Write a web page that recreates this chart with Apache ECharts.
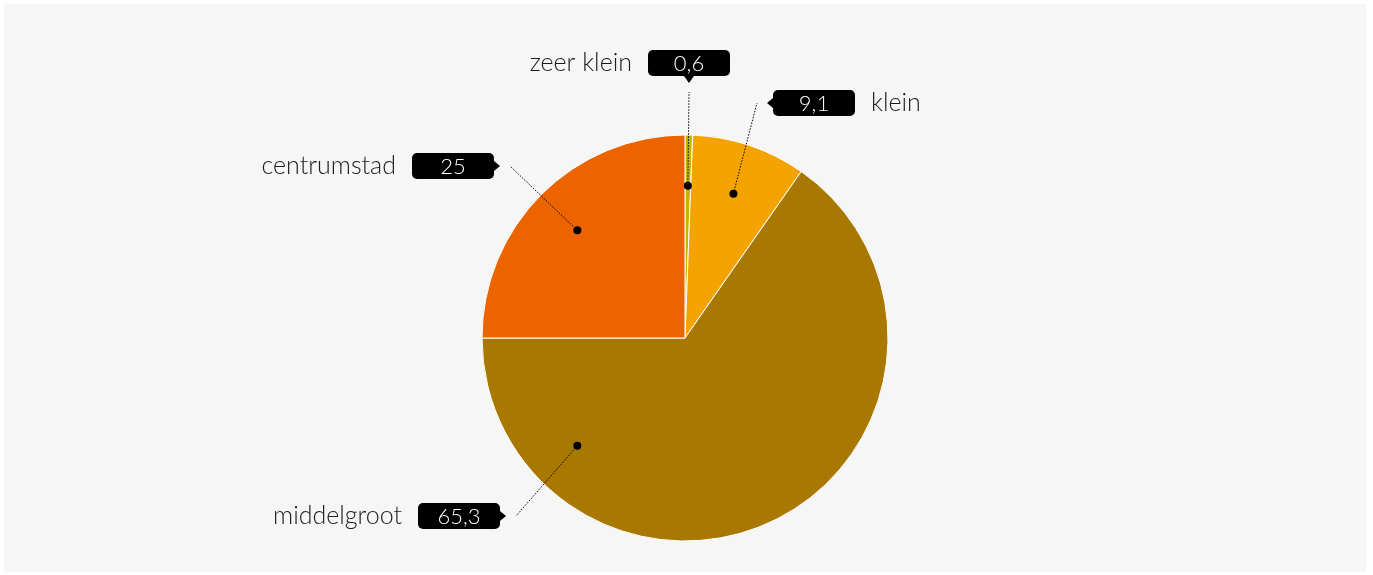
<!DOCTYPE html>
<html lang="nl">
<head>
<meta charset="UTF-8">
<title>taart</title>
<script src="https://cdn.jsdelivr.net/npm/echarts@6/dist/echarts.min.js"></script>
<style>html,body{margin:0;background:#fff;}</style>
</head>
<body>
<div id="main" style="width:1373px;height:575px;"></div>
<script>
    // data
    const categories = ['zeer klein', 'klein', 'middelgroot', 'centrumstad'];
    const values = [0.6, 9.1, 65.3, 25];
    const colors = ['#c8b200', '#f5a300', '#a87800', '#eb6400'];

    // layout of the pie and of the callouts (pixels)
    const cx = 685, cy = 338, R = 203;
    const labelPos = [
        {x: 689, y: 63, pointer: 'bottom', name: 'left'},
        {x: 814, y: 103, pointer: 'left', name: 'right'},
        {x: 459, y: 516, pointer: 'right', name: 'left', dotAngle: 225},
        {x: 453, y: 166, pointer: 'right', name: 'left'}
    ];
    const fontFam = 'Lato, sans-serif';

    const total = values.reduce((a, b) => a + b, 0);

    function renderLabel(params, api) {
        const i = params.dataIndex;
        let before = 0;
        for (let k = 0; k < i; k++) before += values[k];
        const lp = labelPos[i];
        const deg = lp.dotAngle != null ? lp.dotAngle : (before + values[i] / 2) / total * 360;
        const ang = deg * Math.PI / 180;
        const dx = cx + R * 0.75 * Math.sin(ang);
        const dy = cy - R * 0.75 * Math.cos(ang);

        const bw = 82, bh = 26;
        const bx = lp.x - bw / 2, by = lp.y - bh / 2;
        let tri, lineEnd;
        if (lp.pointer === 'bottom') {
            tri = [[lp.x - 5, by + bh], [lp.x + 5, by + bh], [lp.x, by + bh + 7]];
            lineEnd = [lp.x, by + bh + 16];
        } else if (lp.pointer === 'left') {
            tri = [[bx, lp.y - 5], [bx, lp.y + 5], [bx - 6, lp.y]];
            lineEnd = [bx - 16, lp.y];
        } else {
            tri = [[bx + bw, lp.y - 5], [bx + bw, lp.y + 5], [bx + bw + 6, lp.y]];
            lineEnd = [bx + bw + 16, lp.y];
        }
        const nameLeft = lp.name === 'left';

        return {
            type: 'group',
            children: [
                {type: 'polyline', shape: {points: [[dx, dy], lineEnd]},
                    style: {stroke: '#000', lineWidth: 1, lineDash: [1.5, 1.5], fill: null}},
                {type: 'circle', shape: {cx: dx, cy: dy, r: 4}, style: {fill: '#000'}},
                {type: 'rect', shape: {x: bx, y: by, width: bw, height: bh, r: 5}, style: {fill: '#000'}},
                {type: 'polygon', shape: {points: tri}, style: {fill: '#000'}},
                {type: 'text', style: {
                    x: lp.x, y: lp.y + 1, text: String(values[i]).replace('.', ','),
                    fill: '#fff', font: '300 22px ' + fontFam, align: 'center', verticalAlign: 'middle'}},
                {type: 'text', style: {
                    x: nameLeft ? bx - 16 : bx + bw + 16, y: lp.y,
                    text: categories[i], fill: '#1a1a1a', font: '300 25px ' + fontFam,
                    align: nameLeft ? 'right' : 'left', verticalAlign: 'middle'}}
            ]
        };
    }

    const myChart = echarts.init(document.getElementById('main'));
    myChart.setOption({
        animation: false,
        graphic: [{
            type: 'rect', z: -10, silent: true,
            shape: {x: 4, y: 4, width: 1362, height: 568},
            style: {fill: '#f6f6f6'}
        }],
        series: [{
            type: 'pie',
            silent: true,
            center: [cx, cy],
            radius: R,
            startAngle: 90,
            clockwise: true,
            label: {show: false},
            labelLine: {show: false},
            itemStyle: {borderColor: '#fff', borderWidth: 1},
            data: categories.map((c, i) => ({name: c, value: values[i], itemStyle: {color: colors[i]}}))
        }, {
            type: 'custom',
            coordinateSystem: 'none',
            silent: true,
            z: 5,
            renderItem: renderLabel,
            data: values
        }]
    });
</script>
</body>
</html>
